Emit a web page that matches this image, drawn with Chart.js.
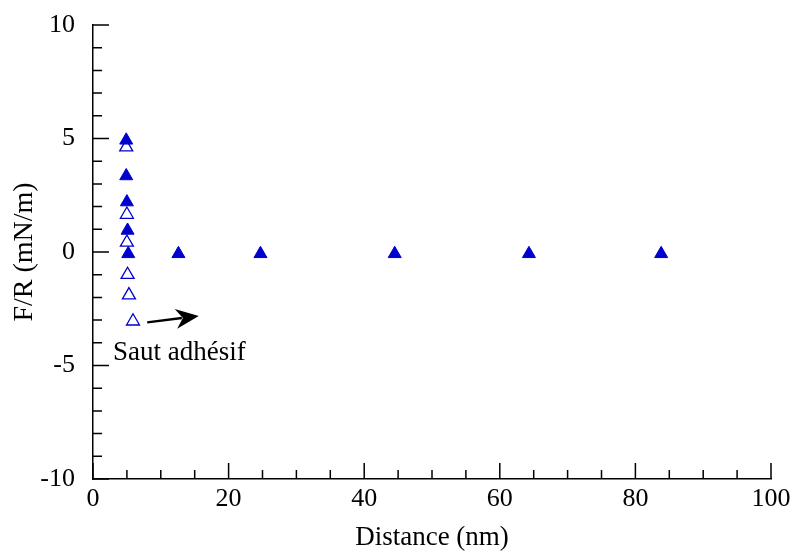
<!DOCTYPE html>
<html>
<head>
<meta charset="utf-8">
<script src="https://cdn.jsdelivr.net/npm/chart.js@4/dist/chart.umd.min.js"></script>
<style>
  body { margin: 0; background: #fff; }
  #wrap { width: 793px; height: 553px; }
</style>
</head>
<body>
<div id="wrap"><canvas id="myChart" width="793" height="553"></canvas></div>
<script>
// approach (filled) and retraction (open) data
var approachX = [4.9, 4.9, 5.0, 5.1, 5.2, 12.6, 24.7, 44.5, 64.3, 83.8];
var approachY = [4.92, 3.35, 2.2, 0.95, -0.08, -0.08, -0.08, -0.08, -0.08, -0.08];
var retractX = [4.9, 5.0, 5.0, 5.1, 5.3, 5.9];
var retractY = [4.62, 1.65, 0.42, -1.0, -1.9, -3.05];

var xTicks = [0, 20, 40, 60, 80, 100];
var yTicks = [-10, -5, 0, 5, 10];

// annotation in data units
var arrowFrom = [8.0, -3.1];
var arrowTo = [15.6, -2.82];
var noteText = "Saut adhésif";
var notePos = [2.95, -4.45];

var blue = "#0000cc";
var serif = "'Liberation Serif', 'Times New Roman', serif";

function toPoints(xs, ys) {
  return xs.map(function (x, i) { return { x: x, y: ys[i] }; });
}

// inward ticks + arrow + label
var extras = {
  id: "extras",
  afterDraw: function (chart) {
    var ctx = chart.ctx;
    var xs = chart.scales.x, ys = chart.scales.y;
    var a = chart.chartArea;
    ctx.save();
    ctx.strokeStyle = "#000";
    ctx.lineWidth = 1.5;
    ctx.beginPath();
    for (var v = 0; v <= 100; v += 5) {
      var px = xs.getPixelForValue(v);
      var len = v % 20 === 0 ? 16 : 9;
      ctx.moveTo(px, a.bottom);
      ctx.lineTo(px, a.bottom - len);
    }
    for (var w = -10; w <= 10; w += 1) {
      var py = ys.getPixelForValue(w);
      var l2 = w % 5 === 0 ? 16 : 9;
      ctx.moveTo(a.left, py);
      ctx.lineTo(a.left + l2, py);
    }
    ctx.stroke();

    // arrow
    var x1 = xs.getPixelForValue(arrowFrom[0]), y1 = ys.getPixelForValue(arrowFrom[1]);
    var x2 = xs.getPixelForValue(arrowTo[0]), y2 = ys.getPixelForValue(arrowTo[1]);
    var ang = Math.atan2(y2 - y1, x2 - x1);
    var hl = 23, hw = 10;
    var bx = x2 - hl * Math.cos(ang), by = y2 - hl * Math.sin(ang);
    ctx.lineWidth = 2.5;
    ctx.beginPath();
    ctx.moveTo(x1, y1);
    ctx.lineTo(bx + 6 * Math.cos(ang), by + 6 * Math.sin(ang));
    ctx.stroke();
    ctx.fillStyle = "#000";
    ctx.beginPath();
    ctx.moveTo(x2, y2);
    ctx.lineTo(bx + hw * Math.sin(ang), by - hw * Math.cos(ang));
    ctx.lineTo(bx + 7 * Math.cos(ang), by + 7 * Math.sin(ang));
    ctx.lineTo(bx - hw * Math.sin(ang), by + hw * Math.cos(ang));
    ctx.closePath();
    ctx.fill();

    ctx.font = "27px " + serif;
    ctx.textBaseline = "middle";
    ctx.textAlign = "left";
    ctx.fillText(noteText, xs.getPixelForValue(notePos[0]), ys.getPixelForValue(notePos[1]));
    ctx.restore();
  }
};

var ctx = document.getElementById("myChart").getContext("2d");
var myChart = new Chart(ctx, {
  type: "scatter",
  data: {
    datasets: [
      {
        data: toPoints(approachX, approachY),
        pointStyle: "triangle",
        pointRadius: 7.5,
        backgroundColor: blue,
        borderColor: blue,
        borderWidth: 1,
      },
      {
        data: toPoints(retractX, retractY),
        pointStyle: "triangle",
        pointRadius: 7.5,
        backgroundColor: "#fff",
        borderColor: blue,
        borderWidth: 1.3,
      },
    ],
  },
  options: {
    responsive: false,
    animation: false,
    layout: { padding: { top: 25, right: 22, left: 0, bottom: 0 } },
    plugins: { legend: { display: false }, tooltip: { enabled: false } },
    scales: {
      x: {
        type: "linear",
        min: 0,
        max: 100,
        afterFit: function (s) {
          s.height = 74;
          s.paddingLeft = 0;
          s.paddingRight = 0;
        },
        afterBuildTicks: function (s) { s.ticks = xTicks.map(function (v) { return { value: v }; }); },
        grid: { display: false, drawTicks: false },
        border: { display: true, color: "#000", width: 1.5 },
        ticks: { color: "#000", padding: 5, maxRotation: 0, font: { family: serif, size: 26 } },
        title: {
          display: true,
          text: "Distance (nm)",
          color: "#000",
          padding: { top: 0, bottom: -1 },
          font: { family: serif, size: 27 },
        },
      },
      y: {
        type: "linear",
        min: -10,
        max: 10,
        afterFit: function (s) {
          s.width = 93;
          s.paddingTop = 0;
          s.paddingBottom = 0;
        },
        afterBuildTicks: function (s) { s.ticks = yTicks.map(function (v) { return { value: v }; }); },
        grid: { display: false, drawTicks: false },
        border: { display: true, color: "#000", width: 1.5 },
        ticks: { color: "#000", padding: 18, font: { family: serif, size: 26 } },
        title: {
          display: true,
          text: "F/R (mN/m)",
          color: "#000",
          padding: { top: 8, bottom: 0 },
          font: { family: serif, size: 28 },
        },
      },
    },
  },
  plugins: [extras],
});
</script>
</body>
</html>
